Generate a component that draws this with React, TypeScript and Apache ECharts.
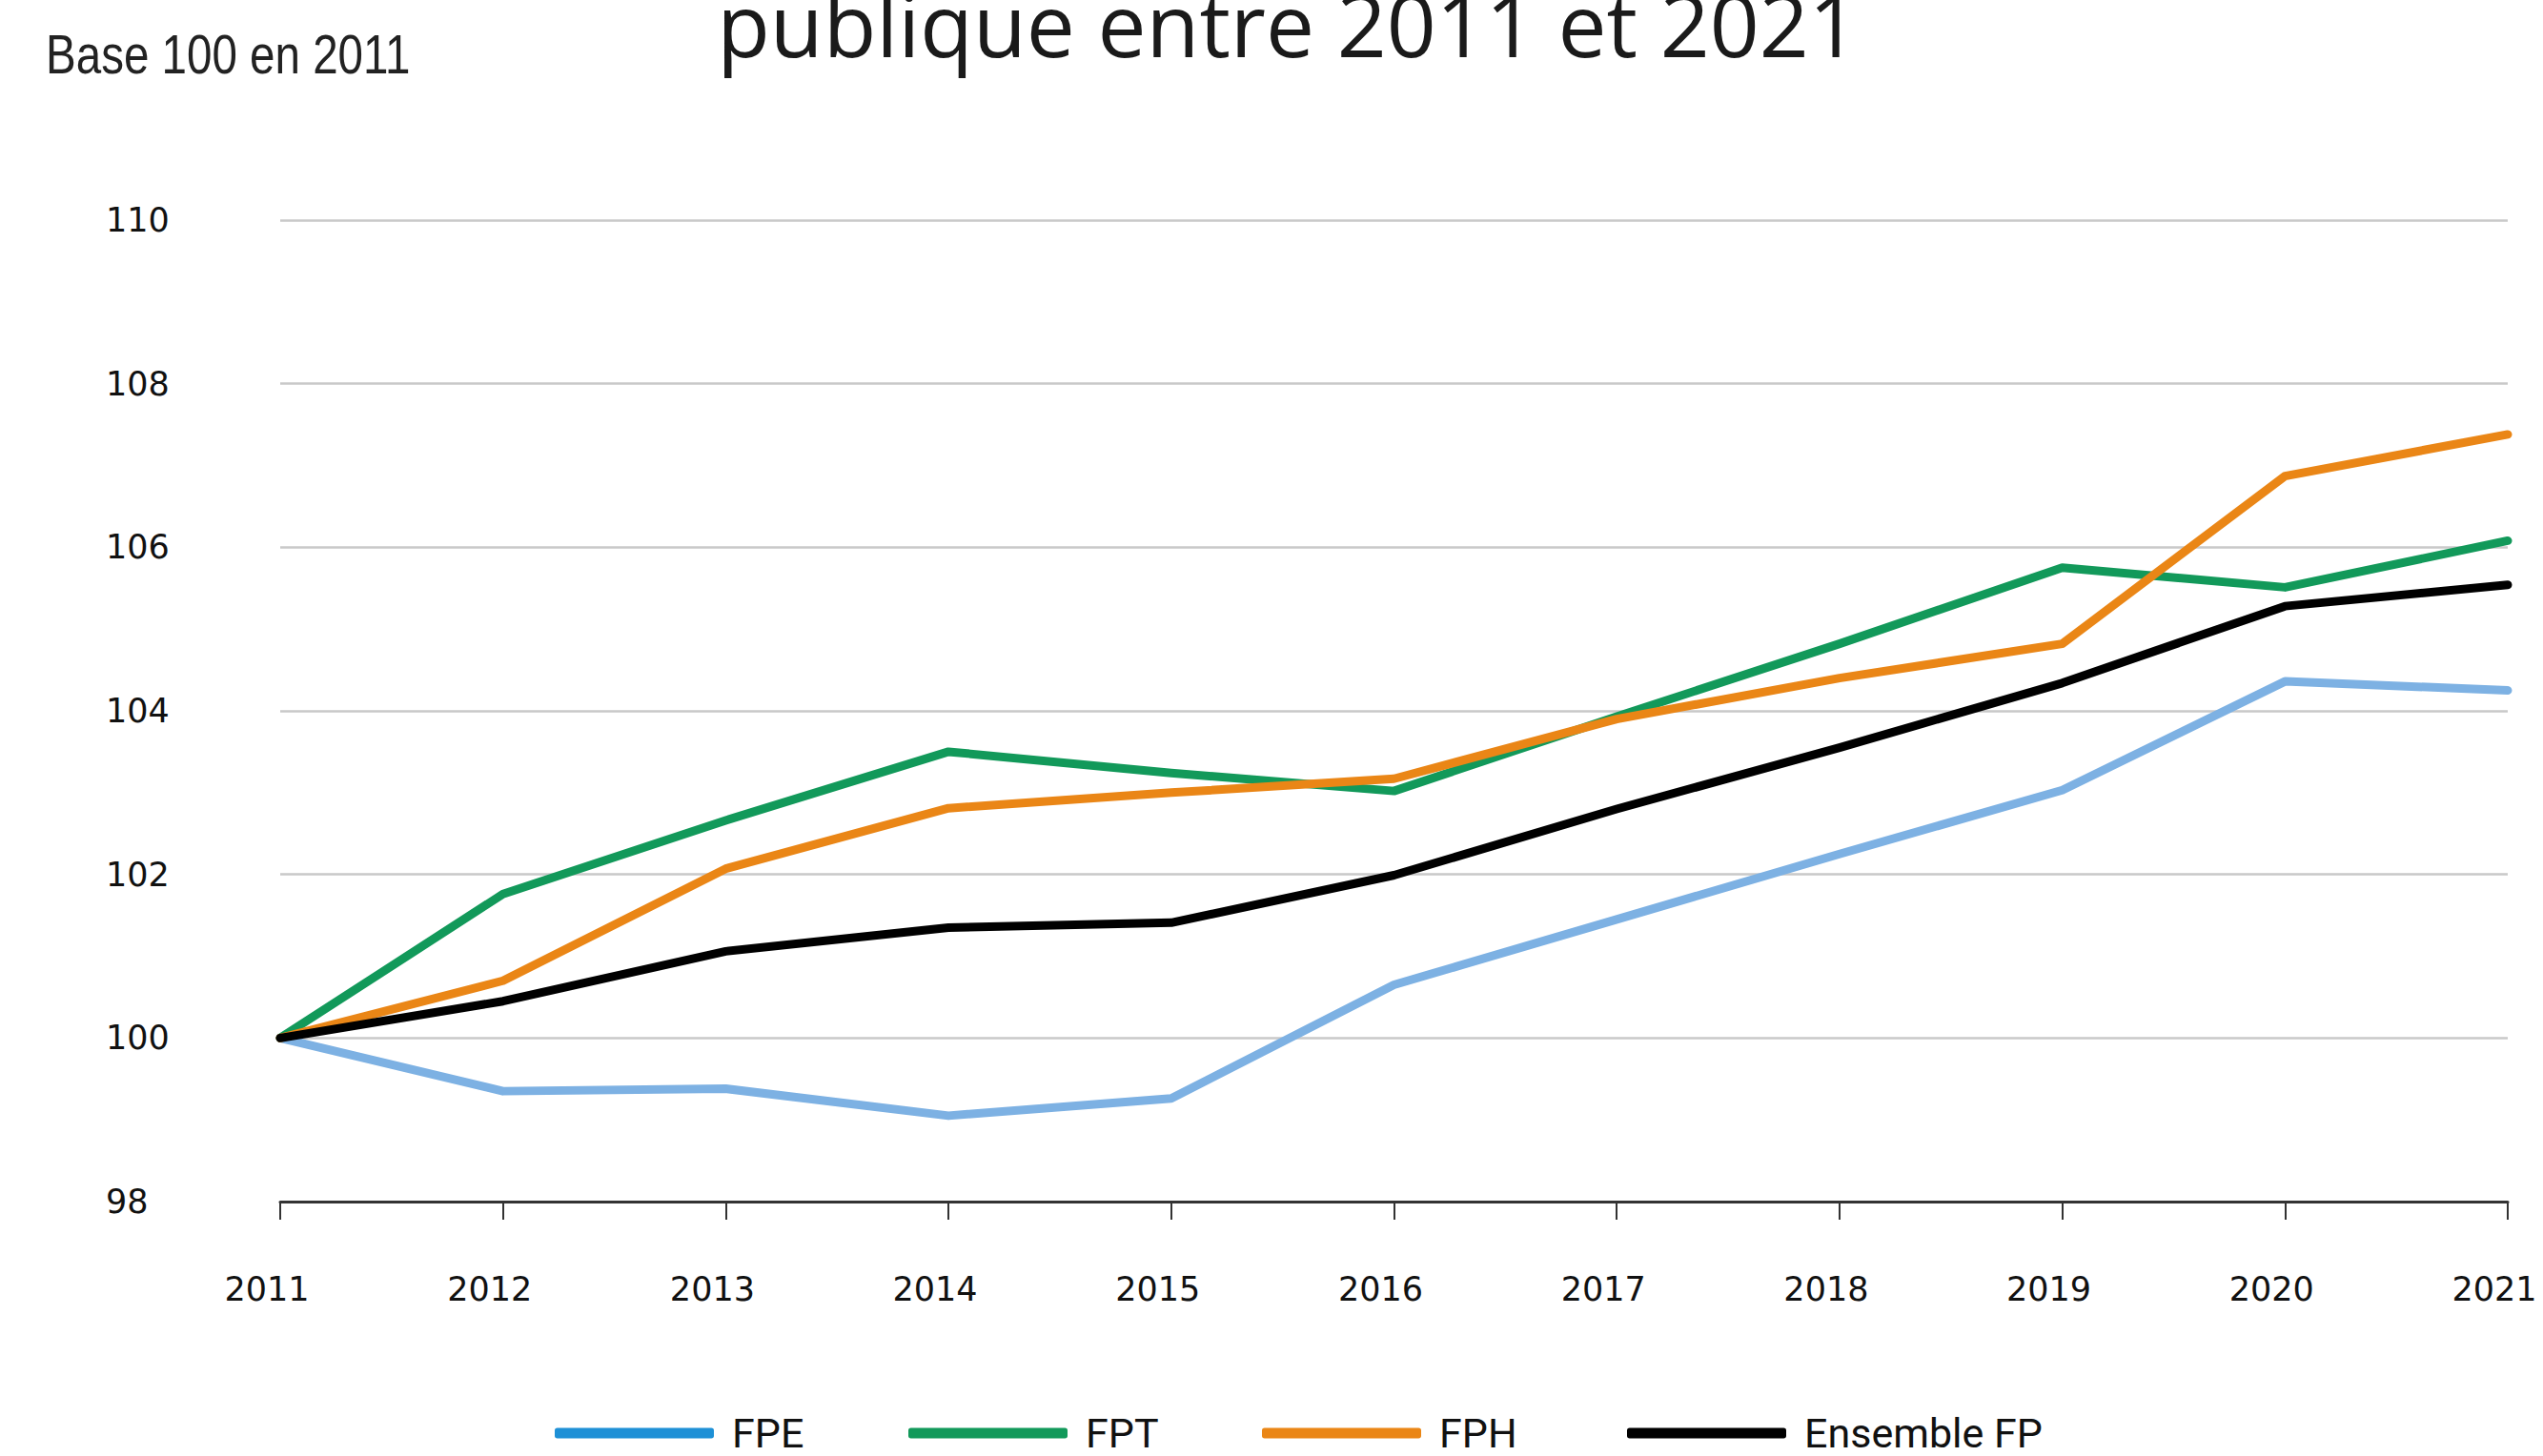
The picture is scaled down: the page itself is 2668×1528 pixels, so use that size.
import React, { useEffect, useRef } from "react";
import * as echarts from "echarts";

const years = ["2011", "2012", "2013", "2014", "2015", "2016", "2017", "2018", "2019", "2020", "2021"];
const fpe = [100, 99.35, 99.38, 99.05, 99.26, 100.65, 101.45, 102.25, 103.03, 104.36, 104.25];
const fpt = [100, 101.76, 102.66, 103.5, 103.24, 103.02, 103.93, 104.82, 105.75, 105.51, 106.08];
const fph = [100, 100.7, 102.07, 102.81, 103.0, 103.17, 103.9, 104.4, 104.82, 106.87, 107.38];
const ensemble = [100, 100.45, 101.06, 101.35, 101.41, 101.99, 102.8, 103.55, 104.34, 105.28, 105.54];

const seriesNames = ["FPE", "FPT", "FPH", "Ensemble FP"];
const lineColors = ["#7db1e3", "#12995a", "#ea8616", "#000000"];
const legendColors = ["#1e90d6", "#12995a", "#ea8616", "#000000"];
const legendLefts = [582, 953, 1324, 1707];
const titleText = "publique entre 2011 et 2021";
const unitText = "Base 100 en 2011";

export default function App() {
  const ref = useRef<HTMLDivElement>(null);
  useEffect(() => {
    document.body.style.margin = "0";
    const chart = echarts.init(ref.current!, null, { renderer: "svg" });
    const data = [fpe, fpt, fph, ensemble];
    chart.setOption({
      animation: false,
      backgroundColor: "#ffffff",
      grid: { left: 294, right: 37, top: 231, bottom: 267, containLabel: false },
      legend: seriesNames.map((n, i) => ({
        left: legendLefts[i],
        top: 1482,
        padding: 0,
        itemWidth: 167,
        itemHeight: 11,
        icon: "roundRect",
        textStyle: {
          fontFamily: "'Roboto', 'Liberation Sans'",
          fontSize: 43,
          lineHeight: 44,
          color: "#111111",
          padding: [0, 0, 0, 14],
        },
        data: [{ name: n, itemStyle: { color: legendColors[i] } }],
      })),
      xAxis: {
        type: "category",
        data: years,
        boundaryGap: false,
        axisLine: { show: true, lineStyle: { color: "#333333", width: 3 } },
        axisTick: { show: true, length: 19, lineStyle: { color: "#333333", width: 2 } },
        axisLabel: {
          fontFamily: "'DejaVu Sans'",
          fontSize: 35,
          color: "#111111",
          margin: 74,
          padding: [0, 28, 0, 0],
        },
        splitLine: { show: false },
      },
      yAxis: {
        type: "value",
        min: 98,
        max: 110,
        interval: 2,
        axisLine: { show: false },
        axisTick: { show: false },
        axisLabel: {
          fontFamily: "'DejaVu Sans'",
          fontSize: 35,
          color: "#111111",
          align: "left",
          margin: 183,
        },
        splitLine: { show: true, lineStyle: { color: "#c9c9c9", width: 2.5 } },
      },
      series: seriesNames.map((n, i) => ({
        name: n,
        type: "line",
        data: data[i],
        symbol: "none",
        color: lineColors[i],
        lineStyle: { color: lineColors[i], width: 9, cap: "round", join: "round" },
        z: 2 + i,
      })),
      graphic: [
        {
          type: "text",
          style: {
            text: titleText,
            x: 1351,
            y: 70,
            fill: "#1a1a1a",
            fontFamily: "'Open Sans'",
            fontSize: 91,
            textAlign: "center",
            textVerticalAlign: "bottom",
          },
        },
        {
          type: "text",
          x: 48,
          y: 28,
          scaleX: 0.82,
          style: {
            text: unitText,
            fill: "#222222",
            fontFamily: "'Liberation Sans'",
            fontSize: 58,
            textVerticalAlign: "top",
          },
        },
      ],
    });
    return () => chart.dispose();
  }, []);
  return <div ref={ref} style={{ width: 2668, height: 1528 }} />;
}
